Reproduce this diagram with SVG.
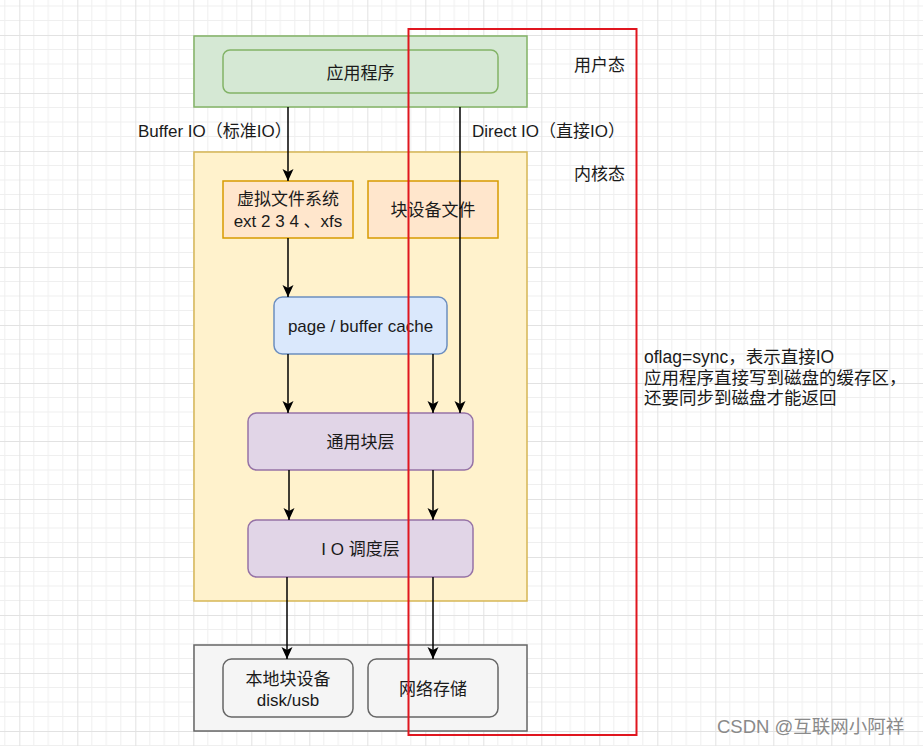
<svg xmlns="http://www.w3.org/2000/svg" width="923" height="746" viewBox="0 0 923 746">
<style>
text{font-family:"Liberation Sans","Noto Sans CJK SC",sans-serif;font-size:17px;fill:#1a1a1a}
.c{text-anchor:middle}
.conn line{stroke:#000;stroke-width:1.5;marker-end:url(#arr)}
</style>
<defs>
<pattern id="grid" patternUnits="userSpaceOnUse" x="19.3" y="35" width="58" height="58">
<path d="M14.5 0V58M29 0V58M43.5 0V58M0 14.5H58M0 29H58M0 43.5H58" stroke="#efefef" stroke-width="1" fill="none"/>
<path d="M0.5 0V58M0 0.5H58" stroke="#e2e2e2" stroke-width="1" fill="none"/>
</pattern>
<marker id="arr" markerUnits="userSpaceOnUse" markerWidth="14" markerHeight="12" refX="12" refY="5.5" orient="auto" viewBox="0 0 14 12">
<path d="M0,0 L12,5.5 L0,11 L3,5.5 Z" fill="#000"/>
</marker>
</defs>
<rect width="923" height="746" fill="#fff"/>
<rect width="923" height="746" fill="url(#grid)"/>

<g id="user-space">
<rect x="194" y="36" width="333" height="71" fill="#d5e8d4" stroke="#82b366" stroke-width="1.5"/>
</g>
<g id="kernel-space">
<rect x="194" y="152" width="333" height="449" fill="#fff2cc" stroke="#d6b656" stroke-width="1.5"/>
</g>
<g id="device-layer">
<rect x="194" y="645" width="333" height="86" fill="#f5f5f5" stroke="#666" stroke-width="1.5"/>
</g>

<g id="app">
<rect x="223" y="50" width="275" height="43" rx="7" fill="#d5e8d4" stroke="#82b366" stroke-width="1.5"/>
<text class="c" x="360.5" y="79">应用程序</text>
</g>
<g id="vfs">
<rect x="223" y="181" width="130" height="57" fill="#ffe6cc" stroke="#d79b00" stroke-width="1.5"/>
<text class="c" x="288" y="205">虚拟文件系统</text>
<text class="c" x="288" y="227">ext 2 3 4 、xfs</text>
</g>
<g id="blockfile">
<rect x="368" y="181" width="130" height="57" fill="#ffe6cc" stroke="#d79b00" stroke-width="1.5"/>
<text class="c" x="433" y="216">块设备文件</text>
</g>
<g id="cache">
<rect x="274" y="297" width="173" height="57" rx="8.5" fill="#dae8fc" stroke="#6c8ebf" stroke-width="1.5"/>
<text class="c" x="360.5" y="332">page / buffer cache</text>
</g>
<g id="generic-block">
<rect x="248" y="413" width="225" height="57" rx="8.5" fill="#e1d5e7" stroke="#9673a6" stroke-width="1.5"/>
<text class="c" x="360.5" y="448">通用块层</text>
</g>
<g id="io-sched">
<rect x="248" y="520" width="225" height="57" rx="8.5" fill="#e1d5e7" stroke="#9673a6" stroke-width="1.5"/>
<text class="c" x="360.5" y="555">I O 调度层</text>
</g>
<g id="local-dev">
<rect x="223" y="659" width="130" height="58" rx="8.5" fill="#f5f5f5" stroke="#666" stroke-width="1.5"/>
<text class="c" x="288" y="685">本地块设备</text>
<text class="c" x="288" y="706">disk/usb</text>
</g>
<g id="net-storage">
<rect x="368" y="659" width="130" height="58" rx="8.5" fill="#f5f5f5" stroke="#666" stroke-width="1.5"/>
<text class="c" x="433" y="695">网络存储</text>
</g>

<g class="conn" id="connectors">
<line x1="288" y1="107" x2="288" y2="181"/>
<line x1="460" y1="107" x2="460" y2="413"/>
<line x1="288" y1="238" x2="288" y2="297"/>
<line x1="288" y1="354" x2="288" y2="413"/>
<line x1="433" y1="354" x2="433" y2="413"/>
<line x1="289" y1="470" x2="289" y2="520"/>
<line x1="433" y1="470" x2="433" y2="520"/>
<line x1="287" y1="577" x2="287" y2="659"/>
<line x1="433" y1="577" x2="433" y2="659"/>
</g>

<g id="labels">
<text x="138" y="137">Buffer IO（标准IO）</text>
<text x="472" y="137">Direct IO（直接IO）</text>
<text x="574" y="71">用户态</text>
<text x="574" y="180">内核态</text>
</g>

<g id="direct-io-frame">
<rect x="408.5" y="29" width="228" height="706" fill="none" stroke="#e0161f" stroke-width="2"/>
</g>

<g id="note">
<text x="644" y="363" style="font-size:17.5px">oflag=sync，表示直接IO</text>
<text x="644" y="384" style="font-size:17.5px">应用程序直接写到磁盘的缓存区，</text>
<text x="644" y="404" style="font-size:17.5px">还要同步到磁盘才能返回</text>
</g>

<text x="717" y="733" style="fill:#8a8a8a;font-size:18.5px">CSDN @互联网小阿祥</text>
</svg>
